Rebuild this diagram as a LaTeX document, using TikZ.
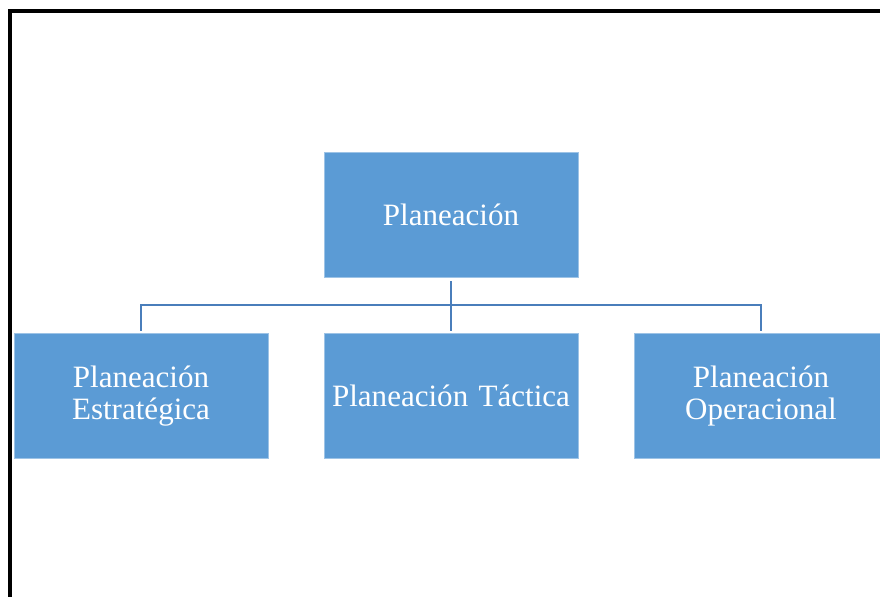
\documentclass[tikz,border=0pt]{standalone}
\usepackage{fontspec}
\setmainfont{Liberation Serif}
\usetikzlibrary{positioning}
\definecolor{boxblue}{HTML}{5B9BD5}
\definecolor{linkblue}{HTML}{4A7EBB}
\definecolor{edgeblue}{HTML}{9DC3E6}
\tikzset{
  planbox/.style={draw=edgeblue, line width=0.5pt, fill=boxblue, text=white,
    minimum width=7.62cm, minimum height=3.75cm, text width=7.5cm, align=center,
    inner sep=0pt, font=\fontsize{26.5}{28}\selectfont},
  link/.style={draw=linkblue, line width=2.2pt}
}
\begin{document}
\begin{tikzpicture}

\useasboundingbox (0, 0) rectangle (26.4, -17.91);

% Frame (cut off at right and bottom)
\draw[line width=3.4pt] (0.3, -18.5) -- (0.3, -0.33) -- (27, -0.33);

% Top box
\node[planbox] (plan) at (13.53, -6.435) {Planeación};

% Second level
\node[planbox] (tactica) at (13.53, -11.88) {Planeación Táctica};
\node[planbox] (estrategica) at (4.23, -11.88) {Planeación\\Estratégica};
\node[planbox] (operacional) at (22.83, -11.88) {Planeación\\Operacional};

% Connectors
\coordinate (bar) at (13.53, -9.15);
\draw[link] ([yshift=-0.12cm]plan.south) -- ([yshift=0.06cm]tactica.north);
\draw[link] ([yshift=0.06cm]estrategica.north) -- (estrategica |- bar) -- (operacional |- bar) -- ([yshift=0.06cm]operacional.north);

\end{tikzpicture}
\end{document}
